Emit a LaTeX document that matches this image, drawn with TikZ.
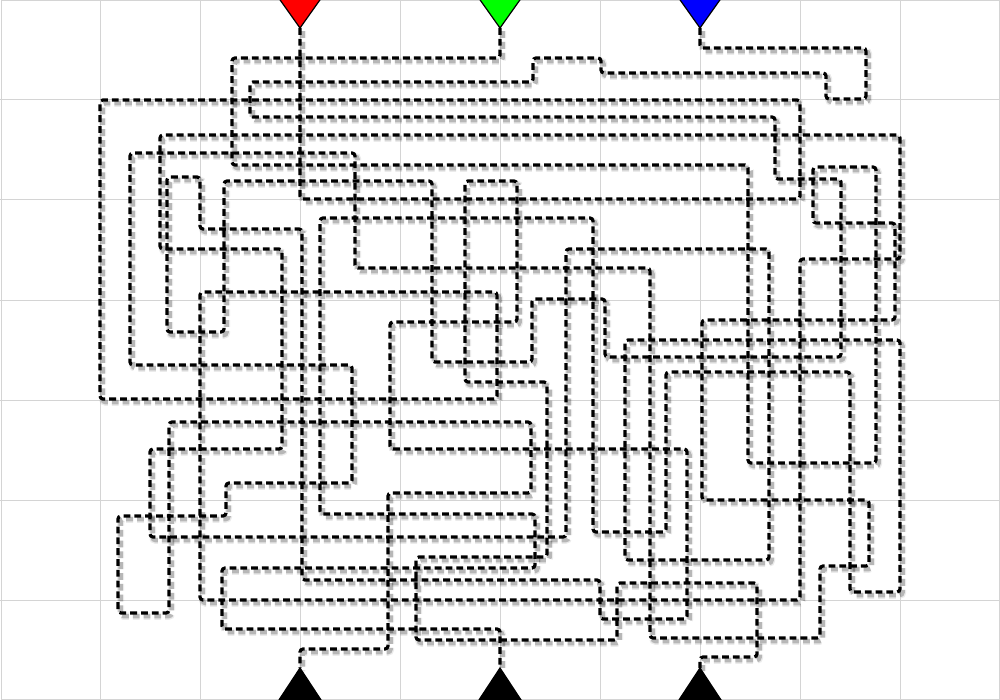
\documentclass[tikz,border=0pt]{standalone}
\begin{document}
\begin{tikzpicture}[x=0.5pt,y=-0.5pt,
  gridline/.style={draw=black!17, line width=0.5pt},
  wire/.style={black, line width=1.6pt, dash pattern=on 3.4pt off 2pt, rounded corners=1.5pt,
    preaction={draw, black, opacity=0.08, line width=3.6pt, dash pattern=on 3.4pt off 2pt, transform canvas={xshift=1.3pt, yshift=-1.6pt}},
    preaction={draw, black, opacity=0.22, line width=2.2pt, dash pattern=on 3.4pt off 2pt, transform canvas={xshift=1.3pt, yshift=-1.6pt}}},
  tri/.style={draw=black, line width=0.6pt}]
\useasboundingbox (0,0) rectangle (1000,700);
\fill[white] (0,0) rectangle (1000,700);
\foreach \i in {100,200,...,900} \draw[gridline] (\i,0) -- (\i,700);
\foreach \j in {100,200,...,600} \draw[gridline] (0,\j) -- (1000,\j);
\draw[gridline] (1,1) rectangle (999,699);

\coordinate (R) at (300,28);
\coordinate (G) at (500,28);
\coordinate (B) at (700,28);
\coordinate (K1) at (300,668);
\coordinate (K2) at (500,668);
\coordinate (K3) at (700,668);

% red -> middle bottom
\draw[wire] (R) -- (300,199) -- (800,199) -- (800,100) -- (100,100) -- (100,399) -- (497,399) -- (497,292) -- (200,292) -- (200,600) -- (800,600) -- (800,259) -- (900,259) -- (900,135) -- (160,135) -- (160,249) -- (282,249) -- (282,449) -- (150,449) -- (150,537) -- (566,537) -- (566,249) -- (769,249) -- (769,560) -- (625,560) -- (625,340) -- (900,340) -- (900,592) -- (850,592) -- (850,372) -- (666,372) -- (666,532) -- (593,532) -- (593,218) -- (320,218) -- (320,514) -- (535,514) -- (535,568) -- (222,568) -- (222,629) -- (500,629) -- (K2);

% green -> left bottom
\draw[wire] (G) -- (500,58) -- (232,58) -- (232,165) -- (748,165) -- (748,463) -- (876,463) -- (876,167) -- (813,167) -- (813,223) -- (895,223) -- (895,320) -- (702,320) -- (702,500) -- (869,500) -- (869,566) -- (820,566) -- (820,638) -- (650,638) -- (650,268) -- (355,268) -- (355,153) -- (130,153) -- (130,365) -- (352,365) -- (352,483) -- (226,483) -- (226,516) -- (118,516) -- (118,613) -- (169,613) -- (169,422) -- (531,422) -- (531,493) -- (388,493) -- (388,649) -- (300,649) -- (K1);

% blue -> right bottom
\draw[wire] (B) -- (700,48) -- (866,48) -- (866,99) -- (826,99) -- (826,73) -- (601,73) -- (601,58) -- (533,58) -- (533,82) -- (250,82) -- (250,117) -- (775,117) -- (775,179) -- (841,179) -- (841,357) -- (605,357) -- (605,299) -- (532,299) -- (532,362) -- (432,362) -- (432,181) -- (224,181) -- (224,332) -- (167,332) -- (167,177) -- (200,177) -- (200,229) -- (302,229) -- (302,580) -- (600,580) -- (600,619) -- (687,619) -- (687,449) -- (390,449) -- (390,322) -- (517,322) -- (517,181) -- (465,181) -- (465,382) -- (547,382) -- (547,557) -- (416,557) -- (416,640) -- (617,640) -- (617,583) -- (757,583) -- (757,657) -- (700,657) -- (K3);

% triangles
\filldraw[tri, fill={rgb,255:red,255;green,0;blue,0}] (278,-3) -- (322,-3) -- (R) -- cycle;
\filldraw[tri, fill={rgb,255:red,0;green,255;blue,0}] (478,-3) -- (522,-3) -- (G) -- cycle;
\filldraw[tri, fill={rgb,255:red,0;green,0;blue,255}] (678,-3) -- (722,-3) -- (B) -- cycle;
\filldraw[tri, fill=black] (277,703) -- (323,703) -- (K1) -- cycle;
\filldraw[tri, fill=black] (477,703) -- (523,703) -- (K2) -- cycle;
\filldraw[tri, fill=black] (677,703) -- (723,703) -- (K3) -- cycle;
\end{tikzpicture}
\end{document}
